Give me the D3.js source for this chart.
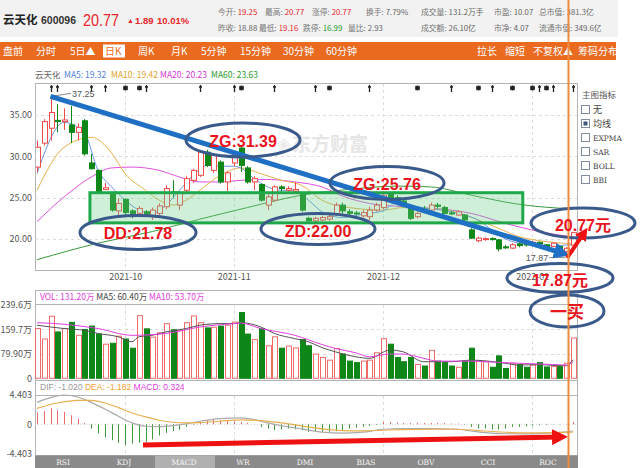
<!DOCTYPE html>
<html><head><meta charset="utf-8">
<script src="https://cdn.jsdelivr.net/npm/d3@7/dist/d3.min.js"></script>
<style>body{margin:0;background:#fff;}svg{display:block;}</style>
</head><body><svg id="c" width="640" height="468"></svg>
<script>
// ---------------- DATA ----------------
const openP=[28.7,31.6,33.4,34.35,34.2,33.8,32.9,34.3,29.2,28.3, 26.0,25.5,23.4,24.8,23.4,23.1,23.3,22.7,23.1,23.9, 25.7,24.1,25.9,27.1,27.7,30.5,28.3,29.3,26.9,29.2, 31.0,28.6,26.9,26.6,24.1,24.7,26.3,25.9,25.8,25.5, 22.5,22.2,22.3,22.4,23.0,24.1,23.3,23.15,22.8,22.7, 23.5,23.8,25.4,25.0,24.6,23.7,22.7,23.6,23.5,24.1, 23.8,23.15,22.9,22.9,21.1,19.8,20.0,20.05,19.9,19.05, 18.9,19.4,19.4,19.3,19.6,19.3,19.1,19.1,18.5,19.25];
const highP=[31.9,34.5,37.25,36.3,35.8,36.1,34.0,34.5,30.3,28.4, 26.8,25.7,24.9,24.9,23.6,24.0,23.5,23.8,24.3,26.5, 27.1,25.8,27.6,28.5,30.7,30.8,30.3,29.5,28.2,30.7, 31.39,28.8,27.6,26.7,25.4,26.5,26.5,26.4,26.9,25.6, 22.7,22.7,22.8,22.9,24.4,24.4,23.6,23.4,23.5,23.9, 24.4,25.76,25.6,25.3,24.8,23.8,23.3,24.0,24.4,24.4, 24.0,23.4,23.5,23.0,21.3,20.3,20.2,20.2,20.0,19.3, 19.5,19.6,19.6,19.8,19.7,19.4,19.6,19.2,19.0,20.77];
const lowP=[28.1,31.3,31.9,32.9,33.2,31.6,31.9,30.1,28.4,25.5, 25.9,23.3,22.7,22.8,22.5,22.7,22.7,22.3,22.9,23.6, 25.0,23.5,25.5,26.8,27.5,28.7,28.0,26.7,25.8,28.8, 28.1,26.7,25.9,24.5,23.5,24.5,25.7,25.6,25.6,23.3, 21.9,22.0,22.1,22.2,22.8,22.9,22.9,22.9,22.6,22.3, 23.3,23.6,24.6,24.4,23.8,22.3,22.5,23.2,23.3,23.7, 23.0,22.9,22.8,22.1,20.0,19.6,19.8,19.8,18.5,18.8, 18.8,19.0,19.1,19.2,19.3,18.8,19.0,18.5,17.87,19.16];
const closeP=[31.1,34.2,35.3,34.2,34.4,32.9,33.5,30.3,28.5,25.7, 26.2,23.5,24.3,23.2,22.9,23.7,23.0,23.5,24.0,26.1, 25.5,25.5,27.3,28.3,30.5,28.9,30.1,26.9,28.0,30.4, 28.9,26.9,27.3,24.7,25.1,26.3,26.1,26.1,26.0,23.5, 22.2,22.5,22.6,22.7,24.1,23.4,23.1,23.05,23.2,23.5, 24.1,25.3,24.9,24.6,24.0,22.5,23.1,23.4,24.1,23.95, 23.1,23.05,23.3,22.3,20.1,20.1,20.05,19.95,18.8,18.95, 19.3,19.2,19.3,19.6,19.4,18.9,19.5,18.6,18.88,20.77];
const volume=[162,128,202,151,162,182,140,159,170,144, 111,114,137,128,98,204,161,134,148,178, 158,156,181,203,181,164,166,170,173,183, 214,144,126,162,106,135,98,105,99,126, 106,79,68,59,97,79,56,51,56,59, 83,129,111,68,54,68,45,40,91,56, 51,40,36,56,98,56,54,36,73,32, 49,45,36,43,51,37,39,38,49,131.2];

const ma5Idx=[0,4,7,9,11,13,15,17,19,21,23,25,27,29,30,32,34,36,38,40,42,45,48,51,53,56,61,63,65,67,68,70,73,76,79];
const ma5Val=[27.9,34.1,32.8,28.3,26.3,24.7,23.5,23.1,24.1,25.9,27.7,28.9,28.8,28.8,28.6,27.3,26.3,25.9,25.9,24.7,23.3,22.6,23.0,23.4,24.4,23.9,23.3,22.9,22.3,21.1,20.5,19.7,19.3,19.2,19.32];
const ma10Idx=[0,4,8,11,13,16,18,20,22,24,27,30,33,36,39,42,46,51,54,58,62,65,68,71,74,79];
const ma10Val=[25.9,31.1,32.3,30.4,27.9,25.9,24.7,24.1,24.7,25.9,27.7,28.6,27.9,27.1,26.5,24.7,23.8,23.5,23.8,23.7,23.2,22.3,21.3,20.3,19.8,19.42];
const ma20Idx=[0,4,8,11,14,18,21,24,27,30,34,38,42,45,49,54,61,64,69,74,79];
const ma20Val=[22.1,25.1,27.5,28.6,28.7,28.3,27.5,26.9,26.9,27.1,27.2,26.9,26.3,25.2,24.3,23.9,23.5,23.1,21.9,20.9,20.23];
const ma60Idx=[0,9,17,24,31,39,46,53,58,64,71,79];
const ma60Val=[17.5,19.5,20.9,22.4,23.8,25.3,26.0,26.4,26.3,25.3,24.2,23.63];

const vma5Idx=[0,2,4,7,9,12,14,15,17,19,22,24,27,29,30,33,35,38,40,42,44,47,49,52,54,57,59,61,64,66,69,71,74,76,78,79];
const vma5Val=[173,167,162,156,146,135,119,135,140,151,162,173,178,178,181,167,146,129,119,100,86,70,65,92,86,54,54,54,59,57,49,43,45,42,41,60.4];
const vma10Idx=[0,4,9,14,19,24,29,30,33,38,42,44,47,49,52,54,57,59,61,64,66,69,71,76,78,79];
const vma10Val=[181,176,162,140,146,167,178,180,162,140,110,97,83,70,79,79,65,56,56,56,54,51,49,45,43,53.7];

const macdHist=[1.77,2.0,2.4,2.1,1.87,1.36,0.86,0.2,-0.66,-1.4, -2.0,-2.4,-2.8,-3.1,-2.9,-2.8,-2.7,-2.3,-1.7,-1.3, -1.0,-0.8,-0.4,-0.1,0.35,0.6,0.75,0.6,0.5,0.45, 0.35,0.2,0.05,-0.4,-0.65,-0.9,-0.8,-0.65,-0.75,-0.9, -1.15,-1.15,-1.15,-1.15,-1.05,-0.9,-0.65,-0.5,-0.4,-0.25, -0.1,0.35,0.35,0.25,0.2,0.2,0.2,0.2,0.2,0.2, 0.2,0.1,0.1,-0.05,-0.4,-0.65,-0.65,-0.8,-0.8,-0.65, -0.4,-0.4,-0.3,-0.2,-0.15,-0.1,-0.05,-0.05,-0.03,0.324];
const difIdx=[0,2,4,6,8,10,12,14,16,18,20,22,24,27,30,32,34,36,39,42,45,48,51,54,58,62,65,68,72,76,79];
const difVal=[3.3,4.0,4.4,4.1,3.3,2.3,1.2,0.2,-0.3,-0.35,-0.2,0.05,0.45,0.85,0.95,0.7,0.2,-0.2,-0.7,-1.2,-1.35,-1.2,-0.75,-0.65,-0.65,-0.75,-1.15,-1.4,-1.45,-1.3,-1.02];
const deaIdx=[0,3,6,8,10,12,14,16,18,20,22,24,27,30,33,36,39,42,45,48,51,54,58,62,65,68,72,76,79];
const deaVal=[2.4,3.2,3.6,3.6,3.2,2.5,1.7,1.1,0.6,0.3,0.2,0.25,0.45,0.65,0.55,0.2,-0.25,-0.7,-0.95,-1.0,-0.9,-0.8,-0.75,-0.75,-0.95,-1.15,-1.3,-1.25,-1.182];

const priceTicks=[20,25,30,35];
const priceTickLabels=["20.00","25.00","30.00","35.00"];
const volTicks=[0,79.9,159.7,239.6];
const volTickLabels=["0","79.90万","159.7万","239.6万"];
const macdTicks=[-4.403,0,4.403];
const macdTickLabels=["-4.403","0","4.403"];
const monthIdx=[13,29,51,73];
const monthLabels=["2021-10","2021-11","2021-12","2022-01"];
const markIdx=[2,3,8,10,13,15,16,24,29,30,35,41,43,49,56,61,65,67,70,73,74,75,76,79];
const markStar=[0,0,0,0,1,1,0,0,0,1,0,0,1,0,1,0,1,0,1,1,0,1,0,0];

// ------------- LAYOUT / STYLE -------------
const svg=d3.select('#c');
const SANS='"Liberation Sans","Noto Sans CJK SC",sans-serif';
const CJK='"Noto Sans CJK SC","Liberation Sans",sans-serif';
const RED='#ef4b4b', GREEN='#0e8618', ORANGE='#ea6a20';
const L=35, R=577;
const xs=d3.scaleLinear().domain([0,79]).range([37,573]);
const yP=d3.scaleLinear().domain([20,35]).range([239,115]);
const yV=d3.scaleLinear().domain([0,239.6]).range([378.3,304.7]);
const yM=d3.scaleLinear().domain([-4.403,4.403]).range([453.5,395]);

function txt(g,x,y,s,size,fill,opts={}){
  const t=g.append('text').attr('x',x).attr('y',y).text(s)
   .attr('font-size',size).attr('fill',fill).attr('font-family',opts.font||SANS);
  if(opts.bold) t.attr('font-weight','bold');
  if(opts.anchor) t.attr('text-anchor',opts.anchor);
  if(opts.len) t.attr('textLength',opts.len).attr('lengthAdjust','spacingAndGlyphs');
  return t;
}

// header
svg.append('rect').attr('x',0).attr('y',0).attr('width',618).attr('height',37).attr('fill','#f2f2f2');
txt(svg,3,24,'云天化',11.5,'#222',{bold:true,font:CJK});
txt(svg,41,24,'600096',10.5,'#333',{bold:true});
txt(svg,83,26,'20.77',17,'#e8262b',{len:36});
txt(svg,127,23,'▲',7,'#e8262b');
txt(svg,135,24,'1.89',9.5,'#e8262b',{bold:true});
txt(svg,157,24,'10.01%',9.5,'#e8262b',{bold:true});
const info1=[[218,'今开:','19.25','#e8262b'],[265,'最高:','20.77','#e8262b'],[312,'涨停:','20.77','#e8262b'],[366,'换手:','7.79%','#666'],[421,'成交量:','131.2万手','#666'],[494,'市盈:','10.07','#666'],[539,'总市值:','381.3亿','#666']];
const info2=[[218,'昨收:','18.88','#666'],[259,'最低:','19.16','#e8262b'],[303,'跌停:','16.99','#1a9a2a'],[348,'量比:','2.93','#666'],[421,'成交额:','26.10亿','#666'],[494,'市净:','4.07','#666'],[539,'流通市值:','349.6亿','#666']];
[[info1,15],[info2,31]].forEach(([rows,y])=>rows.forEach(([x,l,v,c])=>{
  const t=svg.append('text').attr('x',x).attr('y',y).attr('font-size',7.8).attr('font-family',CJK);
  t.append('tspan').attr('fill','#777').text(l);
  t.append('tspan').attr('fill',c).attr('dx',2).text(v);
}));

// orange toolbar
svg.append('rect').attr('x',0).attr('y',42).attr('width',616).attr('height',18).attr('fill',ORANGE);
svg.append('rect').attr('x',103).attr('y',44.5).attr('width',22).attr('height',13).attr('fill','#fff');
const tb=[[3,'盘前'],[36,'分时'],[70,'5日▲'],[105,'日K'],[138,'周K'],[171,'月K'],[201,'5分钟'],[240,'15分钟'],[283,'30分钟'],[326,'60分钟'],[477,'拉长'],[505,'缩短'],[533,'不复权▲'],[578,'筹码分布']];
tb.forEach(([x,s])=>txt(svg,x,55,s,10,s==='日K'?ORANGE:'#fff',{font:CJK}));

// MA legend row
const lg=[[35,'云天化','#666'],[64,'MA5: 19.32','#4f7fdc'],[111,'MA10: 19.42','#e0a22c'],[160,'MA20: 20.23','#d63ad6'],[211,'MA60: 23.63','#2e9a2e']];
lg.forEach(([x,s,c])=>txt(svg,x,78,s,8.5,c,{font:CJK}));

// panels frames
const frame=svg.append('g').attr('fill','none').attr('stroke','#b4b4b4');
frame.append('rect').attr('x',L+.5).attr('y',83.5).attr('width',R-L).attr('height',187);
frame.append('rect').attr('x',L+.5).attr('y',290.5).attr('width',R-L).attr('height',90);
frame.append('rect').attr('x',L+.5).attr('y',380.5).attr('width',R-L).attr('height',75);
frame.append('line').attr('x1',L).attr('x2',R).attr('y1',304.5).attr('y2',304.5);
frame.append('line').attr('x1',L).attr('x2',R).attr('y1',395.5).attr('y2',395.5);

// grids
const grid=svg.append('g').attr('stroke','#dcdcdc').attr('stroke-dasharray','3,3');
priceTicks.forEach(p=>grid.append('line').attr('x1',L).attr('x2',R).attr('y1',Math.round(yP(p))+.5).attr('y2',Math.round(yP(p))+.5));
[79.9,159.7].forEach(v=>grid.append('line').attr('x1',L).attr('x2',R).attr('y1',Math.round(yV(v))+.5).attr('y2',Math.round(yV(v))+.5));
grid.append('line').attr('x1',L).attr('x2',R).attr('y1',yM(0)).attr('y2',yM(0)).attr('stroke','#ccc').attr('stroke-dasharray','1,2');
monthIdx.forEach(i=>{const x=Math.round(xs(i))+.5;
  [[84,270],[305,378],[396,455]].forEach(([a,b])=>grid.append('line').attr('x1',x).attr('x2',x).attr('y1',a).attr('y2',b));});

// axes
function styleAxis(g){g.select('.domain').remove();g.selectAll('line').remove();
  g.selectAll('text').attr('fill','#555').attr('font-size',9).attr('font-family',CJK);}
svg.append('g').attr('transform','translate(32,0)').call(d3.axisLeft(yP).tickValues(priceTicks).tickFormat((d,i)=>priceTickLabels[i]).tickSize(0).tickPadding(0)).call(styleAxis);
svg.append('g').attr('transform','translate(32,0)').call(d3.axisLeft(yV).tickValues(volTicks).tickFormat((d,i)=>volTickLabels[i]).tickSize(0).tickPadding(0)).call(styleAxis);
svg.append('g').attr('transform','translate(32,0)').call(d3.axisLeft(yM).tickValues(macdTicks).tickFormat((d,i)=>macdTickLabels[i]).tickSize(0).tickPadding(0)).call(styleAxis);
svg.append('g').attr('transform','translate(0,274)').call(d3.axisBottom(xs).tickValues(monthIdx).tickFormat((d,i)=>monthLabels[i]).tickSize(0).tickPadding(0)).call(styleAxis);

// watermark
txt(svg,277,150,'◈',18,'#ebebeb',{bold:true,font:'"DejaVu Sans",sans-serif'});
txt(svg,292,151,'东方财富',19,'#e6e6e6',{bold:true,font:CJK});

// top event markers
const mk=svg.append('g').attr('stroke','#222').attr('stroke-width',1.3);
markIdx.forEach((i,k)=>{const x=Math.round(xs(i))+.5;
  if(markStar[k]){mk.append('path').attr('d',`M${x-2.5},88L${x+2.5},88M${x-2},86L${x+2},90M${x-2},90L${x+2},86M${x},85.5L${x},90.5`);}
  else{mk.append('path').attr('d',`M${x},85L${x},92M${x-1.5},87L${x+1.5},87`);} });

// clip for main
svg.append('clipPath').attr('id','mc').append('rect').attr('x',L+1).attr('y',84).attr('width',R-L-1).attr('height',186);
const main=svg.append('g').attr('clip-path','url(#mc)');

// MA lines
const mline=(ys)=>d3.line().x(d=>xs(d[0])).y(d=>ys(d[1])).curve(d3.curveMonotoneX);
[[ma60Idx,ma60Val,'#3a9a3a'],[ma20Idx,ma20Val,'#e050e0'],[ma10Idx,ma10Val,'#e8b04a'],[ma5Idx,ma5Val,'#6b96e8']].forEach(([ix,vv,c])=>{
  main.append('path').datum(ix.map((d,k)=>[d,vv[k]])).attr('d',mline(yP)).attr('fill','none').attr('stroke',c).attr('stroke-width',1);
});

// candles
const cd=d3.range(openP.length).map(i=>({i,o:openP[i],h:highP[i],l:lowP[i],c:closeP[i],up:closeP[i]>=openP[i]}));
const cg=main.selectAll('g.cd').data(cd).join('g');
cg.append('line').attr('x1',d=>Math.round(xs(d.i))+.5).attr('x2',d=>Math.round(xs(d.i))+.5)
  .attr('y1',d=>yP(d.h)).attr('y2',d=>yP(d.l)).attr('stroke',d=>d.up?RED:GREEN);
cg.append('rect').attr('x',d=>Math.round(xs(d.i))-2+.5).attr('width',5)
  .attr('y',d=>yP(Math.max(d.o,d.c))).attr('height',d=>Math.max(1,yP(Math.min(d.o,d.c))-yP(Math.max(d.o,d.c))))
  .attr('fill',d=>d.up?'#fff':GREEN).attr('stroke',d=>d.up?RED:GREEN);

// volume
svg.selectAll('rect.v').data(cd).join('rect').attr('class','v')
  .attr('x',d=>Math.round(xs(d.i))-2+.5).attr('width',5)
  .attr('y',d=>yV(volume[d.i])).attr('height',d=>yV(0)-yV(volume[d.i]))
  .attr('fill',d=>d.up?'#fff':GREEN).attr('stroke',d=>d.up?'#f06a6a':GREEN);
[[vma5Idx,vma5Val,'#555'],[vma10Idx,vma10Val,'#e040e0']].forEach(([ix,vv,c])=>{
  svg.append('path').datum(ix.map((d,k)=>[d,vv[k]])).attr('d',mline(yV)).attr('fill','none').attr('stroke',c).attr('stroke-width',1);
});
const vl=svg.append('text').attr('x',40).attr('y',300).attr('font-size',8.5).attr('font-family',CJK);
vl.append('tspan').attr('fill','#e040e0').text('VOL: 131.20万 ');
vl.append('tspan').attr('fill','#444').text(' MA5: 60.40万 ');
vl.append('tspan').attr('fill','#e040e0').text(' MA10: 53.70万');

// MACD
svg.selectAll('line.m').data(macdHist).join('line').attr('class','m')
  .attr('x1',(d,i)=>Math.round(xs(i))+.5).attr('x2',(d,i)=>Math.round(xs(i))+.5)
  .attr('y1',yM(0)).attr('y2',d=>yM(d)).attr('stroke',d=>d>=0?'#e86a6a':'#3c9a3c');
[[difIdx,difVal,'#aaa'],[deaIdx,deaVal,'#eab050']].forEach(([ix,vv,c])=>{
  svg.append('path').datum(ix.map((d,k)=>[d,vv[k]])).attr('d',mline(yM)).attr('fill','none').attr('stroke',c).attr('stroke-width',1.2);
});
const ml=svg.append('text').attr('x',40).attr('y',390).attr('font-size',8.5).attr('font-family',SANS);
ml.append('tspan').attr('fill','#999').text('DIF: -1.020 ');
ml.append('tspan').attr('fill','#f0a030').text('  DEA: -1.182 ');
ml.append('tspan').attr('fill','#e040e0').text('  MACD: 0.324');

// tab bar
svg.append('rect').attr('x',L).attr('y',455.5).attr('width',R-L+1).attr('height',13).attr('fill','#8a8a8a');
svg.append('rect').attr('x',155).attr('y',455.5).attr('width',60).attr('height',13).attr('fill','#b0b0b0');
const tabs=[[63,'RSI'],[124,'KDJ'],[184,'MACD'],[243,'WR'],[305,'DMI'],[366,'BIAS'],[426,'OBV'],[488,'CCI'],[548,'ROC']];
tabs.forEach(([x,s])=>txt(svg,x,465,s,7.5,'#f4f4f4',{anchor:'middle',font:'"DejaVu Serif",serif'}));

// right indicator panel
const rp=svg.append('g');
txt(rp,582,98,'主图指标',8.5,'#555',{font:CJK});
const opts=['无','均线','EXPMA','SAR','BOLL','BBI'];
opts.forEach((s,k)=>{const y=105+k*14;
  rp.append('rect').attr('x',581.5).attr('y',y+.5).attr('width',8).attr('height',8).attr('fill','#fff').attr('stroke','#7d8ba3');
  if(k===1) rp.append('rect').attr('x',583.5).attr('y',y+2.5).attr('width',4).attr('height',4).attr('fill','#3e5580');
  txt(rp,593,y+8,s,k<2?9:7.5,'#444',{font:k<2?CJK:'"DejaVu Serif",serif'});
});

// peak/trough labels
svg.append('path').attr('d',`M${xs(2)},${yP(37.25)}L${xs(5)},${yP(37.25)-3}`).attr('stroke','#888').attr('fill','none');
txt(svg,xs(5)+1,yP(37.25)+1,'37.25',9,'#555');
svg.append('path').attr('d',`M${xs(78)-1},${yP(17.87)+1}L${xs(75.5)},${yP(17.87)+1}`).attr('stroke','#888');
txt(svg,xs(75.5)-1,yP(17.87)+4,'17.87',9,'#555',{anchor:'end'});

// ---------- annotations ----------
const an=svg.append('g');
an.append('rect').attr('x',xs(7.8)).attr('y',yP(25.6)).attr('width',xs(71.6)-xs(7.8)).attr('height',yP(21.95)-yP(25.6))
  .attr('fill','rgba(110,205,140,0.33)').attr('stroke','#1fa84a').attr('stroke-width',3);
const defs=svg.append('defs');
function arrowMarker(id,c){defs.append('marker').attr('id',id).attr('viewBox','0 0 10 10').attr('refX',5).attr('refY',5)
  .attr('markerWidth',3.2).attr('markerHeight',3.2).attr('orient','auto').append('path').attr('d','M0,0L10,5L0,10Z').attr('fill',c);}
arrowMarker('ab','#1f6fc4');arrowMarker('ar','#ee1111');
an.append('line').attr('x1',xs(2)).attr('y1',yP(37.25)).attr('x2',xs(77.4)).attr('y2',yP(18.3))
  .attr('stroke','#1f6fc4').attr('stroke-width',5).attr('marker-end','url(#ab)');
const ells=[[243,140,57,17,'ZG:31.39',146.5],[138,232.5,58,17,'DD:21.78',238.5],[318,229,57,15.5,'ZD:22.00',237],[387,183,57,16.5,'ZG:25.76',189.5],
  [583,223,52,15,'20.77元',231],[560,278,53,14.5,'17.87元',286],[567,311,37,16,'一买',318]];
ells.forEach(([cx,cy,rx,ry])=>{
  an.append('ellipse').attr('cx',cx).attr('cy',cy).attr('rx',rx).attr('ry',ry).attr('fill','none').attr('stroke','#3b5a8c').attr('stroke-width',3);
});
an.append('line').attr('x1',567).attr('y1',258).attr('x2',584).attr('y2',233).attr('stroke','#ee1111').attr('stroke-width',4).attr('marker-end','url(#ar)');
an.append('line').attr('x1',143).attr('y1',445).attr('x2',560).attr('y2',437).attr('stroke','#ee1111').attr('stroke-width',5).attr('marker-end','url(#ar)');
an.append('line').attr('x1',568.5).attr('x2',568.5).attr('y1',0).attr('y2',468).attr('stroke','#f08a3c').attr('stroke-width',2);
ells.forEach(([cx,cy,rx,ry,s,ty])=>{
  txt(an,cx,ty,s,s==='一买'?17:16,'#e8141e',{bold:true,anchor:'middle',font:SANS});
});
</script></body></html>
